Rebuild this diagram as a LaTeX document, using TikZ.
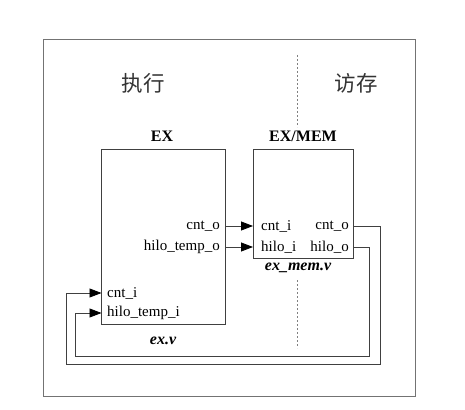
\documentclass[tikz,border=0pt]{standalone}
\usepackage{fontspec}
\setmainfont{Liberation Serif}
\newfontfamily\cjk{Noto Sans CJK SC}
\usetikzlibrary{arrows.meta}
\begin{document}
\begin{tikzpicture}[x=1pt,y=-1pt,
  frame/.style={draw=black!55, line width=0.9pt},
  blk/.style={draw=black!75, line width=0.8pt, inner sep=0pt},
  wire/.style={draw=black!75, line width=0.8pt},
  arr/.style={wire, -{Triangle[length=12pt,width=9pt,color=black]}},
  port/.style={font=\fontsize{15}{15}\selectfont, inner sep=1pt},
  ttl/.style={font=\fontsize{16}{16}\selectfont\bfseries},
  fname/.style={font=\fontsize{16}{16}\selectfont\bfseries\itshape},
  cn/.style={font=\fontsize{21.5}{21.5}\selectfont\cjk, text=black!80},
  sep/.style={draw=black!50, line width=0.6pt, dash pattern=on 2pt off 2pt}]
\useasboundingbox (0,0) rectangle (465,409);
\fill[white] (0,0) rectangle (465,409);
% outer frame
\node[frame, minimum width=372pt, minimum height=357pt, inner sep=0pt] (frm) at (229,217.5) {};
% stage separator
\coordinate (s1) at (297,55);
\coordinate (s2) at (297,127);
\coordinate (s3) at (297,280);
\coordinate (s4) at (297,348);
\draw[sep] (s1) -- (s2);
\draw[sep] (s3) -- (s4);
% stage names
\node[cn] (zx) at (143,83) {执行};
\node[cn] (fc) at (356,83) {访存};
% blocks
\node[blk, minimum width=124pt, minimum height=175pt] (ex) at (163.5,236.5) {};
\node[blk, minimum width=100pt, minimum height=109pt] (mem) at (303,203.5) {};
\node[ttl] (extl) at (162,136) {EX};
\node[ttl] (memtl) at (303,136) {EX/MEM};
\node[fname] (exf) at (163,341) {ex.v};
\node[fname] (memf) at (298,268) {ex\_mem.v};
% port coordinates
\coordinate (exo1) at (225.5,226);
\coordinate (exo2) at (225.5,247);
\coordinate (mi1) at (253,226);
\coordinate (mi2) at (253,247);
\coordinate (mo1) at (353,226);
\coordinate (mo2) at (353,247);
\coordinate (ei1) at (101.5,293);
\coordinate (ei2) at (101.5,313);
% port labels
\node[port, anchor=east] (l1) at (221,226) {cnt\_o};
\node[port, anchor=east] (l2) at (221,247) {hilo\_temp\_o};
\node[port, anchor=west] (l3) at (260,226) {cnt\_i};
\node[port, anchor=west] (l4) at (260,247) {hilo\_i};
\node[port, anchor=east] (l5) at (350,226) {cnt\_o};
\node[port, anchor=east] (l6) at (350,247) {hilo\_o};
\node[port, anchor=west] (l7) at (106,293) {cnt\_i};
\node[port, anchor=west] (l8) at (106,313) {hilo\_temp\_i};
% forward wires
\draw[arr] (exo1) -- (mi1);
\draw[arr] (exo2) -- (mi2);
% feedback wires
\coordinate (f1a) at (380,226);
\coordinate (f1b) at (66,364);
\coordinate (f2a) at (369,247);
\coordinate (f2b) at (75,356);
\draw[arr] (mo1) -- (f1a) |- (f1b) |- (ei1);
\draw[arr] (mo2) -- (f2a) |- (f2b) |- (ei2);
\end{tikzpicture}
\end{document}
